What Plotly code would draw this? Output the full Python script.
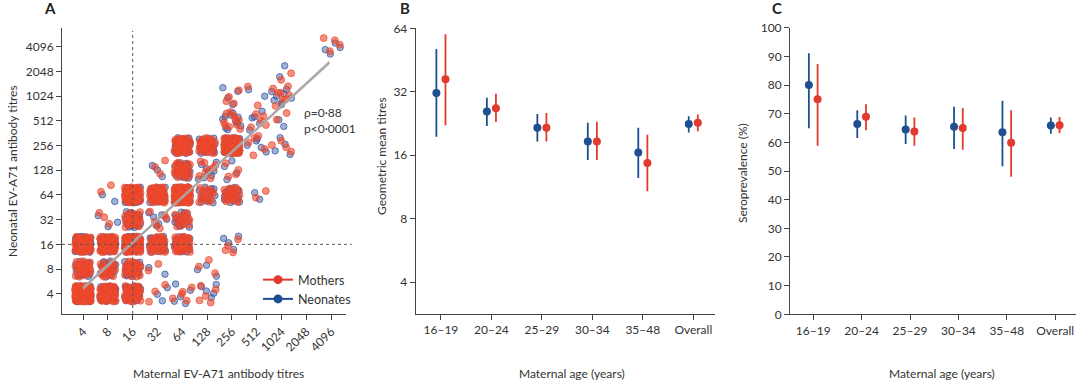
import plotly.graph_objects as go
import numpy as np

# ---------------- DATA ----------------
# Panel A: paired titres (maternal, neonatal) and number of pairs in each cell
maternal_titre = [4, 8, 16, 32, 64, 128,
                  4, 8, 16, 32, 128,
                  4, 8, 16, 32, 64, 256,
                  8, 16, 32, 64,
                  8, 16, 32, 64, 128, 256, 512,
                  32, 64, 128, 256,
                  64, 128, 256, 512, 1024,
                  256, 512, 1024,
                  256, 512, 1024,
                  1024,
                  4096]
neonatal_titre = [4, 4, 4, 4, 4, 4,
                  8, 8, 8, 8, 8,
                  16, 16, 16, 16, 16, 16,
                  32, 32, 32, 32,
                  64, 64, 64, 64, 64, 64, 64,
                  128, 128, 128, 128,
                  256, 256, 256, 256, 256,
                  512, 512, 512,
                  1024, 1024, 1024,
                  2048,
                  4096]
pair_count = [150, 50, 40, 3, 5, 5,
              25, 20, 25, 2, 3,
              60, 50, 100, 30, 35, 4,
              3, 25, 6, 15,
              2, 60, 45, 120, 15, 20, 2,
              3, 25, 8, 4,
              40, 30, 80, 5, 4,
              10, 5, 2,
              4, 2, 8,
              2,
              4]
titre_ticks = [4, 8, 16, 32, 64, 128, 256, 512, 1024, 2048, 4096]
rho_text = "ρ=0·88<br>p<0·0001"
# regression of log2(neonatal) on log2(maternal)
reg_intercept = 0.39
reg_slope = 0.92
reg_x_range = [4, 3900]

# Panels B and C
age_groups = ["16–19", "20–24", "25–29", "30–34", "35–48", "Overall"]
gmt_neonates = [31.6, 25.8, 21.6, 18.6, 16.5, 22.5]
gmt_neonates_lo = [19.6, 22.0, 18.6, 15.2, 12.5, 20.5]
gmt_neonates_hi = [51.0, 30.0, 25.1, 22.8, 21.6, 24.5]
gmt_mothers = [36.7, 26.7, 21.6, 18.6, 14.7, 22.8]
gmt_mothers_lo = [22.2, 23.0, 18.6, 15.2, 10.8, 20.8]
gmt_mothers_hi = [60.0, 31.3, 25.4, 23.1, 20.0, 25.0]

sero_neonates = [80.0, 66.4, 64.5, 65.4, 63.5, 65.9]
sero_neonates_lo = [64.9, 61.5, 59.4, 57.7, 51.7, 63.0]
sero_neonates_hi = [91.1, 71.2, 69.4, 72.4, 74.5, 68.7]
sero_mothers = [75.0, 68.9, 63.8, 65.0, 59.9, 66.0]
sero_mothers_lo = [58.8, 64.2, 58.8, 57.4, 48.0, 63.2]
sero_mothers_hi = [87.3, 73.3, 68.7, 72.0, 71.2, 68.8]

# ---------------- STYLE ----------------
W, H = 1080, 381
FONT = "Lato"
TXT = "#333333"
AX = "#444444"
RED = "#e23a2e"
BLUE = "#1d4f91"


def px(x):
    return x / W


def py(y):
    return 1 - y / H


def halton(i, b):
    f, r = 1.0, 0.0
    while i > 0:
        f /= b
        r += f * (i % b)
        i //= b
    return r


def jitter_offsets(n, start):
    # deterministic low-discrepancy spread inside each titre cell (display jitter only)
    k = np.arange(n) + start
    u = np.array([halton(int(i), 2) for i in k])
    v = np.array([halton(int(i), 3) for i in k])
    spread = 0.64 if n > 12 else 0.8
    return (u - 0.5) * spread, (v - 0.5) * spread  # in log2 units


def expand(shift):
    xs, ys = [], []
    for idx, (m, nn, c) in enumerate(zip(maternal_titre, neonatal_titre, pair_count)):
        du, dv = jitter_offsets(c, 1 + shift + 23 * idx)
        xs.extend(m * 2.0 ** du)
        ys.extend(nn * 2.0 ** dv)
    return xs, ys


fig = go.Figure()

# ---------- Panel A ----------
xn, yn = expand(311)
xm, ym = expand(0)
fig.add_trace(go.Scatter(x=xn, y=yn, mode="markers", showlegend=False,
                         marker=dict(size=6.5, color="rgba(45,80,160,0.45)",
                                     line=dict(color="rgba(45,80,160,0.7)", width=1)),
                         xaxis="x", yaxis="y", hoverinfo="skip"))
fig.add_trace(go.Scatter(x=xm, y=ym, mode="markers", showlegend=False,
                         marker=dict(size=7, color="rgba(236,66,40,0.6)",
                                     line=dict(color="rgba(236,80,50,0.7)", width=1)),
                         xaxis="x", yaxis="y", hoverinfo="skip"))

# regression line and band
lx = np.geomspace(reg_x_range[0], reg_x_range[1], 60)
ly = 2.0 ** (reg_intercept + reg_slope * np.log2(lx))
half = 0.04 + 0.012 * np.abs(np.log2(lx) - 6.5)
band_hi = ly * 2.0 ** half
band_lo = ly * 2.0 ** (-half)
fig.add_trace(go.Scatter(x=np.concatenate([lx, lx[::-1]]), y=np.concatenate([band_hi, band_lo[::-1]]),
                         fill="toself", fillcolor="rgba(200,200,200,0.55)", line=dict(width=0),
                         mode="lines", showlegend=False, xaxis="x", yaxis="y", hoverinfo="skip"))
fig.add_trace(go.Scatter(x=lx, y=ly, mode="lines", line=dict(color="#a3a3a3", width=2),
                         showlegend=False, xaxis="x", yaxis="y", hoverinfo="skip"))

# legend entries
fig.add_trace(go.Scatter(x=[None], y=[None], mode="lines+markers", name="Mothers",
                         line=dict(color=RED, width=2), marker=dict(color=RED, size=9),
                         xaxis="x", yaxis="y"))
fig.add_trace(go.Scatter(x=[None], y=[None], mode="lines+markers", name="Neonates",
                         line=dict(color=BLUE, width=2), marker=dict(color=BLUE, size=9),
                         xaxis="x", yaxis="y"))

# ---------- Panel B ----------
xi = np.arange(len(age_groups))
off = 0.09
for vals, lo, hi, col, dx in [(gmt_neonates, gmt_neonates_lo, gmt_neonates_hi, BLUE, -off),
                              (gmt_mothers, gmt_mothers_lo, gmt_mothers_hi, RED, off)]:
    v = np.array(vals); l = np.array(lo); h = np.array(hi)
    fig.add_trace(go.Scatter(x=xi + dx, y=v, mode="markers", showlegend=False,
                             marker=dict(color=col, size=8),
                             error_y=dict(type="data", array=h - v, arrayminus=v - l,
                                          color=col, thickness=1.8, width=0),
                             xaxis="x2", yaxis="y2"))

# ---------- Panel C ----------
for vals, lo, hi, col, dx in [(sero_neonates, sero_neonates_lo, sero_neonates_hi, BLUE, -off),
                              (sero_mothers, sero_mothers_lo, sero_mothers_hi, RED, off)]:
    v = np.array(vals); l = np.array(lo); h = np.array(hi)
    fig.add_trace(go.Scatter(x=xi + dx, y=v, mode="markers", showlegend=False,
                             marker=dict(color=col, size=8),
                             error_y=dict(type="data", array=h - v, arrayminus=v - l,
                                          color=col, thickness=1.8, width=0),
                             xaxis="x3", yaxis="y3"))

axis_common = dict(showline=True, linecolor=AX, linewidth=1, ticks="outside", ticklen=5,
                   tickcolor=AX, tickwidth=1, showgrid=False, zeroline=False, automargin=False,
                   tickfont=dict(family=FONT, size=12, color=TXT))

log2 = np.log10(2)
fig.update_layout(
    width=W, height=H, margin=dict(l=0, r=0, t=0, b=0, autoexpand=False),
    paper_bgcolor="white", plot_bgcolor="white",
    font=dict(family=FONT, size=12, color=TXT),
    xaxis=dict(domain=[px(62), px(346)], type="log", range=[1.15 * log2, 12.6 * log2],
               tickvals=titre_ticks, ticktext=[str(t) for t in titre_ticks], tickangle=-45,
               anchor="y", **axis_common),
    yaxis=dict(domain=[py(314), py(28)], type="log", range=[1.18 * log2, 12.76 * log2],
               tickvals=titre_ticks, ticktext=[str(t) for t in titre_ticks],
               anchor="x", **axis_common),
    xaxis2=dict(domain=[px(415.7), px(715)], range=[-0.5, 5.43], tickvals=list(xi),
                ticktext=age_groups, anchor="y2", **axis_common),
    yaxis2=dict(domain=[py(314), py(28.3)], type="log", range=[1.5 * log2, 6 * log2],
                tickvals=[4, 8, 16, 32, 64], ticktext=["4", "8", "16", "32", "64"],
                anchor="x2", **axis_common),
    xaxis3=dict(domain=[px(790), px(1076)], range=[-0.48, 5.43], tickvals=list(xi),
                ticktext=age_groups, anchor="y3", **axis_common),
    yaxis3=dict(domain=[py(314.3), py(27.7)], range=[0, 100], tickvals=list(range(0, 101, 10)),
                anchor="x3", **axis_common),
    legend=dict(x=px(258), y=py(265), xanchor="left", yanchor="top",
                bgcolor="rgba(0,0,0,0)", font=dict(family=FONT, size=12.5, color=TXT),
                tracegroupgap=0, itemwidth=30),
)

# reference dotted lines at titre 16
fig.add_shape(type="line", xref="x", yref="y domain", x0=16, x1=16, y0=0, y1=0.99,
              line=dict(color="#555555", width=1, dash="dot"))
fig.add_shape(type="line", xref="x domain", yref="y", x0=0, x1=1.02, y0=16, y1=16,
              line=dict(color="#555555", width=1, dash="dot"))

ann = [
    dict(text="<b>A</b>", x=px(50), y=py(8)),
    dict(text="<b>B</b>", x=px(405), y=py(8)),
    dict(text="<b>C</b>", x=px(777), y=py(8)),
    dict(text="Neonatal EV-A71 antibody titres", x=px(12), y=py(171), textangle=-90),
    dict(text="Maternal EV-A71 antibody titres", x=px(218), y=py(373)),
    dict(text="Geometric mean titres", x=px(382), y=py(156), textangle=-90),
    dict(text="Maternal age (years)", x=px(572), y=py(373)),
    dict(text="Seroprevalence (%)", x=px(742), y=py(173), textangle=-90),
    dict(text="Maternal age (years)", x=px(942), y=py(373)),
]
for a in ann:
    size = 15 if a["text"].startswith("<b>") else 12
    fig.add_annotation(xref="paper", yref="paper", showarrow=False,
                       font=dict(family=FONT, size=size, color="#222222" if size == 15 else TXT),
                       xanchor="center", yanchor="middle", **a)
fig.add_annotation(xref="paper", yref="paper", x=px(302), y=py(121), text=rho_text,
                   showarrow=False, xanchor="left", yanchor="middle", align="left",
                   font=dict(family=FONT, size=12, color=TXT))

fig.write_html("out.html", config={"displayModeBar": False},
               post_script="document.body.style.margin='0';document.body.style.padding='0';"
                           "document.body.style.overflow='hidden';")
